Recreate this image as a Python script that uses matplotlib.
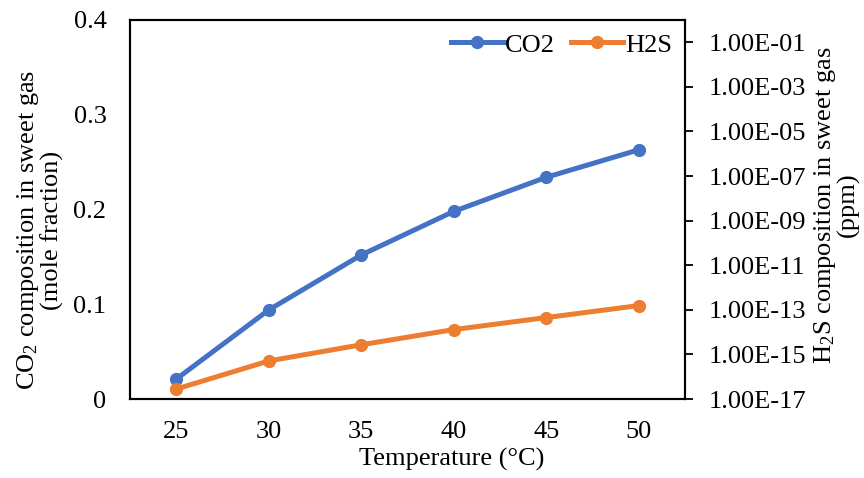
import numpy as np
import matplotlib
matplotlib.use('Agg')
import matplotlib.pyplot as plt
from matplotlib.ticker import FixedLocator, FuncFormatter, NullLocator

plt.rcParams['font.family'] = 'Liberation Serif'
plt.rcParams['mathtext.fontset'] = 'custom'
plt.rcParams['mathtext.rm'] = 'Liberation Serif'
plt.rcParams['mathtext.it'] = 'Liberation Serif'
plt.rcParams['mathtext.bf'] = 'Liberation Serif'

temperatura = ['25', '30', '35', '40', '45', '50']
co2 = [0.021, 0.094, 0.152, 0.198, 0.234, 0.263]  # fraccion molar
h2s = [2.8e-17, 5.1e-16, 2.7e-15, 1.3e-14, 4.5e-14, 1.55e-13]  # ppm
ticks_der = [1e-17, 1e-15, 1e-13, 1e-11, 1e-9, 1e-7, 1e-5, 1e-3, 1e-1]

azul = '#4472C4'
naranja = '#ED7D31'
fs = 19

fig = plt.figure(figsize=(8.64, 4.78), dpi=100)
ax = fig.add_axes([130/864, 1-399/478, 555/864, 379/478])
ax2 = ax.twinx()

x = np.arange(len(temperatura))
l1, = ax.plot(x, co2, color=azul, lw=3.6, marker='o', ms=8.5, label='CO2')
l2, = ax2.plot(x, h2s, color=naranja, lw=3.6, marker='o', ms=8.5, label='H2S')

ax.set_xlim(-0.5, len(temperatura)-0.5)
ax.set_xticks(x)
ax.set_xticklabels(temperatura)
ax.set_ylim(0, 0.4)
ax.set_yticks([0, 0.1, 0.2, 0.3, 0.4])
ax.set_yticklabels(['0', '0.1', '0.2', '0.3', '0.4'])
ax.tick_params(axis='x', length=0, labelsize=fs, pad=16)
ax.tick_params(axis='y', length=0, labelsize=fs, pad=17)

ax2.set_yscale('log')
ax2.set_ylim(1e-17, 1e0)
ax2.yaxis.set_major_locator(FixedLocator(ticks_der))
ax2.yaxis.set_minor_locator(NullLocator())
ax2.yaxis.set_major_formatter(FuncFormatter(lambda v, p: '%.2E' % v))
ax2.tick_params(axis='y', length=6, width=1.3, direction='out', labelsize=fs, pad=11)

for a in (ax, ax2):
    for s in a.spines.values():
        s.set_linewidth(1.5)
        s.set_color('black')

ax.set_xlabel('Temperature (°C)', fontsize=fs)
ax.xaxis.set_label_coords(0.58, -0.13)
ax.set_ylabel('CO$_2$ composition in sweet gas\n(mole fraction)', fontsize=fs, linespacing=0.95)
ax.yaxis.set_label_coords(-0.119, 0.446)
ax2.set_ylabel('H$_2$S composition in sweet gas\n(ppm)', fontsize=fs, linespacing=0.95, rotation=90)
ax2.yaxis.set_label_coords(1.229, 0.512)

ax.legend(handles=[l1, l2], loc='upper right', ncol=2, frameon=False, fontsize=fs,
          handlelength=2.0, handletextpad=0.05, columnspacing=0.6, borderaxespad=0.3,
          borderpad=0.2)

plt.savefig('out.png', dpi=100)
plt.close()
